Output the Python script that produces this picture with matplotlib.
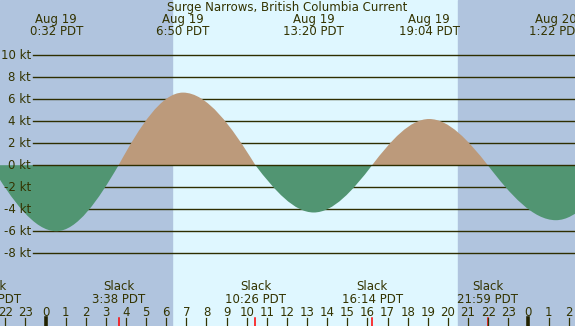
import matplotlib.pyplot as plt
from matplotlib.path import Path
from matplotlib.patches import PathPatch

# current events, hours after 0:00 Aug 19 (PDT)
slack_hours = [-2.72, 3.633, 10.433, 16.233, 21.983, 28.5]
slack_labels = ['21:17 PDT', '3:38 PDT', '10:26 PDT', '16:14 PDT', '21:59 PDT', '']
max_hours = [0.533, 6.833, 13.333, 19.067, 25.367]
max_speeds = [-6.0, 6.6, -4.3, 4.2, -5.0]
max_dates = ['Aug 19', 'Aug 19', 'Aug 19', 'Aug 19', 'Aug 20']
max_labels = ['0:32 PDT', '6:50 PDT', '13:20 PDT', '19:04 PDT', '1:22 PDT']
sunrise, sunset = 6.29, 20.5
kt_levels = [-8, -6, -4, -2, 0, 2, 4, 6, 8, 10]
hour_ticks = list(range(-2, 27))

title = 'Surge Narrows, British Columbia Current'

# pixel layout of the original picture
W, H = 575, 326
x0, pph = 45.5, 20.12      # px of midnight, px per hour
y0, ppk = 165.2, 11.0      # px of 0 kt, px per knot

txt = '#333300'
night = '#b0c4de'
day = '#dff7ff'
ebb = '#519572'
flood = '#bc9a7b'
fs = 8.5


def hx(px):
    return (px - x0) / pph


def vy(py):
    return (y0 - py) / ppk


fig = plt.figure(figsize=(W / 100, H / 100), dpi=100)
ax = fig.add_axes([0, 0, 1, 1])
ax.set_xlim(hx(0), hx(W))
ax.set_ylim(vy(H), vy(0))
ax.axis('off')

ax.axvspan(hx(0), hx(W), color=day, zorder=0)
ax.axvspan(hx(0), sunrise, color=night, zorder=0.5)
ax.axvspan(sunset, hx(W), color=night, zorder=0.5)

# knot grid
for k in kt_levels:
    ax.plot([hx(33), hx(W)], [k, k], color='#2e2e00', lw=1.0,
            zorder=3 if k == 0 else 1)
    ax.text(hx(31), k, '%d kt' % k, ha='right', va='center',
            color=txt, fontsize=fs)

# current lobes between slacks
for i in range(len(max_hours)):
    ts0, tm, ts1, v = slack_hours[i], max_hours[i], slack_hours[i + 1], max_speeds[i]
    d1, d2 = tm - ts0, ts1 - tm
    verts = [(ts0, 0), (ts0 + d1 / 3, v * 0.54), (tm - d1 / 3, v), (tm, v),
             (tm + d2 / 3, v), (ts1 - d2 / 3, v * 0.54), (ts1, 0), (ts0, 0)]
    codes = [Path.MOVETO] + [Path.CURVE4] * 6 + [Path.CLOSEPOLY]
    ax.add_patch(PathPatch(Path(verts, codes), facecolor=flood if v > 0 else ebb,
                           edgecolor='none', zorder=2))

# top labels
ax.text(hx(287), vy(7.5), title, ha='center', va='center', color=txt, fontsize=fs)
for t, d, lab in zip(max_hours, max_dates, max_labels):
    ax.text(t, vy(19.5), d, ha='center', va='center', color=txt, fontsize=fs)
    ax.text(t, vy(31.5), lab, ha='center', va='center', color=txt, fontsize=fs)

# bottom slack labels
for t, lab in zip(slack_hours, slack_labels):
    if not lab:
        continue
    ax.text(t, vy(287), 'Slack', ha='center', va='center', color=txt, fontsize=fs)
    ax.text(t, vy(299.5), lab, ha='center', va='center', color=txt, fontsize=fs)
    ax.plot([t, t], [vy(318), vy(H)], color='#ff0000', lw=1.1, zorder=4)

# hour ticks
for h in hour_ticks:
    ax.text(h, vy(312), str(h % 24), ha='center', va='center', color=txt, fontsize=fs)
    if h % 24 == 0:
        ax.plot([h, h], [vy(318), vy(H)], color='#222200', lw=2.6, zorder=4)
    else:
        ax.plot([h, h], [vy(318), vy(H)], color=txt, lw=0.9, zorder=4)

fig.savefig('out.png', dpi=100)
